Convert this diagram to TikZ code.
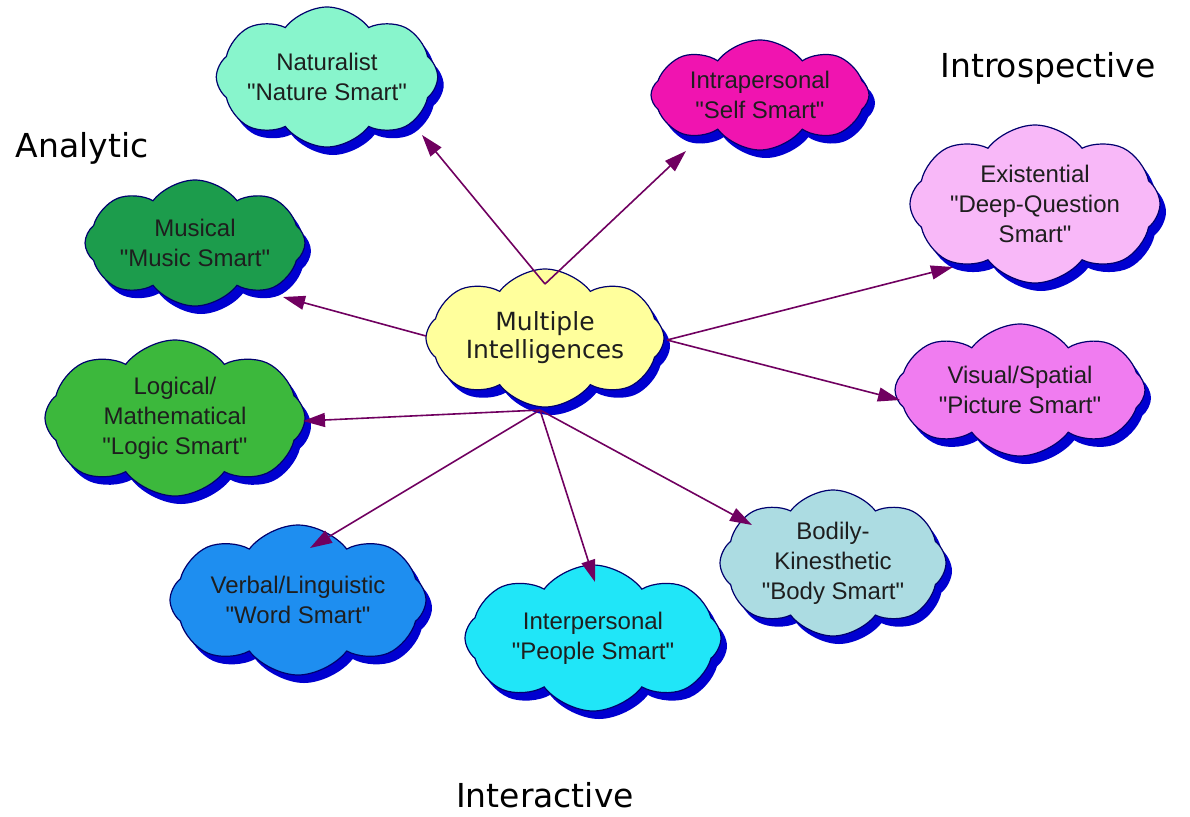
\documentclass[tikz,border=0pt]{standalone}
\usepackage{fontspec}
\setmainfont{Liberation Sans}[Ligatures=TeXOff]
\newfontfamily\dejavu{DejaVu Sans}
\usetikzlibrary{shapes.symbols,shadows,arrows.meta,calc}
\definecolor{cNat}{HTML}{88F5CC}
\definecolor{cIntra}{HTML}{F014B0}
\definecolor{cExist}{HTML}{F8B8F8}
\definecolor{cVis}{HTML}{F07CF0}
\definecolor{cBod}{HTML}{ACDCE2}
\definecolor{cInter}{HTML}{20E6F8}
\definecolor{cVerb}{HTML}{1E8EF0}
\definecolor{cLog}{HTML}{3CB83C}
\definecolor{cMus}{HTML}{1C9C4C}
\definecolor{cMain}{HTML}{FFFF9C}
\definecolor{cShadow}{HTML}{0000D0}
\definecolor{cEdge}{HTML}{00006E}
\definecolor{cArrow}{HTML}{700060}
\definecolor{cText}{HTML}{1E1E1E}
\tikzset{
  mi/.style={cloud, cloud puffs=8, cloud puff arc=105, cloud ignores aspect,
    draw=cEdge, line width=0.6pt, fill=#1, text=cText, align=center,
    font=\fontsize{12}{15}\selectfont, inner sep=0pt,
    drop shadow={shadow xshift=3pt, shadow yshift=-4pt, fill=cShadow, opacity=1}},
  conn/.style={draw=cArrow, line width=0.8pt, -{Triangle[length=11pt,width=7pt]}},
  grouplabel/.style={font=\dejavu\fontsize{16.5}{18}\selectfont, text=black}
}
\begin{document}
\begin{tikzpicture}[x=0.5pt,y=-0.5pt]
\useasboundingbox[fill=white] (0,0) rectangle (1190,816);
% clouds
\node[mi=cNat, minimum width=108pt, minimum height=70pt] (nat) at (327,77) {Naturalist\\"Nature Smart"};
\node[mi=cIntra, minimum width=109pt, minimum height=55pt] (intra) at (760,95) {Intrapersonal\\"Self Smart"};
\node[mi=cExist, minimum width=125pt, minimum height=79pt] (exist) at (1035,204) {Existential\\"Deep-Question\\Smart"};
\node[mi=cVis, minimum width=125pt, minimum height=66pt] (vis) at (1020,390) {Visual/Spatial\\"Picture Smart"};
\node[mi=cBod, minimum width=113pt, minimum height=73pt] (bod) at (833,563) {Bodily-\\Kinesthetic\\"Body Smart"};
\node[mi=cInter, minimum width=128pt, minimum height=73pt] (inter) at (593,638) {Interpersonal\\"People Smart"};
\node[mi=cVerb, minimum width=128pt, minimum height=75pt] (verb) at (298,600) {Verbal/Linguistic\\"Word Smart"};
\node[mi=cLog, minimum width=130pt, minimum height=78pt] (log) at (175,418) {Logical/\\Mathematical\\"Logic Smart"};
\node[mi=cMus, minimum width=110pt, minimum height=63pt] (mus) at (195,243) {Musical\\"Music Smart"};
\node[mi=cMain, minimum width=119pt, minimum height=69pt, font=\dejavu\fontsize{12.5}{14}\selectfont] (main) at (545,338) {Multiple\\Intelligences};
% source points on the central cloud
\coordinate (stop) at ($(main)+(0,-54)$);
\coordinate (sleft) at ($(main)+(-119,-2)$);
\coordinate (sright) at ($(main)+(122,2)$);
\coordinate (sbot) at ($(main)+(-5,72)$);
% connectors
\draw[conn] (stop) -- ($(nat)+(95,58)$);
\draw[conn] (stop) -- ($(intra)+(-74,56)$);
\draw[conn] (sleft) -- ($(mus)+(88,54)$);
\draw[conn] (sright) -- ($(exist)+(-82,63)$);
\draw[conn] (sright) -- ($(vis)+(-120,10)$);
\draw[conn] (sbot) -- ($(log)+(128,3)$);
\draw[conn] (sbot) -- ($(verb)+(12,-52)$);
\draw[conn] (sbot) -- ($(inter)+(2,-56)$);
\draw[conn] (sbot) -- ($(bod)+(-81,-38)$);
% group labels
\node[grouplabel] (lanal) at (82,148) {Analytic};
\node[grouplabel] (lintro) at (1048,68) {Introspective};
\node[grouplabel] (linter) at (545,795) {Interactive};
\end{tikzpicture}
\end{document}
